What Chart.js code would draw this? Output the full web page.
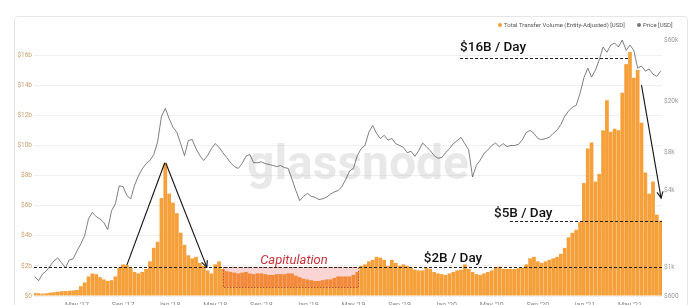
<!DOCTYPE html>
<html>
<head>
<meta charset="utf-8">
<script src="https://cdn.jsdelivr.net/npm/chart.js@4/dist/chart.umd.min.js"></script>
<style>
html, body { margin: 0; padding: 0; background: #fff; }
</style>
</head>
<body>
<canvas id="grafico" width="700" height="305"></canvas>
<script>
// x = meses desde jan/2017, uma amostra a cada 1/3 de mês
const passo = 1 / 3;

// Total Transfer Volume (Entity-Adjusted), em bilhões de USD
const volume = [
    0.2, 0.18, 0.15, 0.18, 0.22, 0.25, 0.28, 0.32, 0.33, 0.35, 0.37, 0.4,
    0.65, 0.9, 1.3, 1.5, 1.45, 1.25, 1.1, 1.0, 1.05, 1.3, 1.9, 2.1,
    2.05, 1.85, 1.6, 1.5, 1.6, 1.8, 2.3, 3.2, 3.6, 6.5, 8.8, 6.8,
    6.2, 5.5, 4.2, 3.4, 2.7, 2.5, 2.6, 2.2, 2.0, 1.7, 1.5, 2.1,
    2.3, 1.8, 1.65, 1.6, 1.55, 1.5, 1.55, 1.6, 1.5, 1.45, 1.5, 1.5,
    1.45, 1.4, 1.4, 1.45, 1.45, 1.45, 1.5, 1.5, 1.35, 1.25, 1.15, 1.1,
    1.05, 1.0, 1.0, 1.05, 1.1, 1.1, 1.2, 1.3, 1.3, 1.3, 1.3, 1.4,
    1.6, 2.0, 2.1, 2.3, 2.4, 2.6, 2.55, 2.4, 2.0, 2.4, 2.2, 2.0,
    2.1, 2.0, 1.9, 1.75, 1.7, 1.7, 1.9, 1.8, 1.6, 1.5, 1.45, 1.4,
    1.5, 1.6, 1.7, 1.75, 2.1, 1.8, 1.6, 1.45, 1.4, 1.5, 1.6, 1.7,
    1.9, 1.95, 1.8, 1.8, 1.8, 1.8, 1.85, 1.9, 2.1, 2.5, 2.6, 2.3,
    2.2, 2.3, 2.4, 2.5, 2.6, 2.8, 3.2, 3.9, 4.2, 4.4, 4.9, 7.5,
    9.8, 10.2, 7.6, 8.1, 11.0, 13.0, 10.9, 11.1, 11.0, 13.5, 15.4, 16.2,
    14.5, 15.0, 11.5, 8.2, 6.8, 7.6, 5.4, 5.0
];

// Price [USD]
const preco = [
    850, 790, 890, 940, 1030, 1130, 1190, 1090, 995, 1150, 1170, 1350,
    1530, 1780, 2400, 2700, 2500, 2400, 2250, 1980, 2780, 3150, 4350, 4300,
    3650, 3450, 4400, 5200, 5900, 6500, 6870, 7650, 9600, 15200, 17500, 14600,
    12500, 11400, 9300, 7500, 9850, 10000, 8500, 7500, 6870, 7500, 8500, 9300,
    8700, 7900, 7250, 6600, 6150, 5950, 6500, 7400, 7650, 6600, 6600, 6700,
    6500, 6400, 6280, 6150, 6280, 6050, 5950, 4900, 4000, 3340, 3600, 3800,
    3600, 3550, 3400, 3450, 3550, 3750, 3900, 4000, 4300, 4900, 5700, 5950,
    7500, 8500, 9000, 11400, 12900, 11200, 10200, 10800, 9900, 10200, 9300, 9000,
    8700, 7900, 8100, 7400, 8200, 9400, 8800, 8200, 7500, 7150, 7250, 7900,
    8500, 9300, 9800, 10400, 9300, 8300, 5100, 6300, 6900, 7800, 8300, 9000,
    9400, 8800, 9300, 8800, 9000, 9000, 9200, 10000, 11400, 11800, 11200, 10200,
    10000, 10200, 10400, 11200, 11800, 13100, 15200, 16700, 17900, 18500, 23000, 30300,
    36200, 30800, 34900, 42000, 52900, 48200, 54800, 56800, 52900, 60000, 49800, 54800,
    49800, 36200, 37600, 34300, 35600, 32400, 31200, 34300
];

const ticksMes = [4, 8, 12, 16, 20, 24, 28, 32, 36, 40, 44, 48, 52];
const nomesMes = ["May '17", "Sep '17", "Jan '18", "May '18", "Sep '18", "Jan '19", "May '19",
    "Sep '19", "Jan '20", "May '20", "Sep '20", "Jan '21", "May '21"];
const ticksVolume = [0, 2, 4, 6, 8, 10, 12, 14, 16];
const ticksPreco = [600, 1000, 4000, 8000, 20000, 60000];

const dadosVolume = volume.map((v, i) => ({ x: (i + 1) * passo, y: v }));
const dadosPreco = preco.map((v, i) => ({ x: (i + 1) * passo, y: v }));

function seta(c, x1, y1, x2, y2, ponta) {
    c.beginPath();
    c.moveTo(x1, y1);
    c.lineTo(x2, y2);
    c.stroke();
    if (!ponta) return;
    const ang = Math.atan2(y2 - y1, x2 - x1);
    const t = 7;
    c.beginPath();
    c.moveTo(x2 - t * Math.cos(ang - 0.45), y2 - t * Math.sin(ang - 0.45));
    c.lineTo(x2, y2);
    c.lineTo(x2 - t * Math.cos(ang + 0.45), y2 - t * Math.sin(ang + 0.45));
    c.stroke();
}

const anotacoes = {
    id: 'anotacoes',
    beforeDraw(chart) {
        const c = chart.ctx;
        c.save();
        c.fillStyle = '#fff';
        c.fillRect(0, 0, chart.width, chart.height);
        c.strokeStyle = '#e6e6e6';
        c.lineWidth = 1;
        c.beginPath();
        c.roundRect(14.5, 16.5, 673, 300, 3);
        c.stroke();
        c.restore();
    },
    beforeDatasetsDraw(chart) {
        // marca d'água
        const c = chart.ctx;
        c.save();
        c.font = 'bold 42px Roboto';
        const w = c.measureText('glassnode').width;
        c.font = 'bold ' + (42 * 222 / w).toFixed(1) + 'px Roboto';
        c.fillStyle = 'rgba(200,200,200,0.42)';
        c.textAlign = 'center';
        c.fillText('glassnode', 358, 179);
        c.restore();
    },
    afterDatasetsDraw(chart) {
        const c = chart.ctx;
        const x = chart.scales.x, y = chart.scales.y;
        const area = chart.chartArea;
        const X = m => x.getPixelForValue(m);
        const Y = v => y.getPixelForValue(v);
        c.save();

        // caixa da capitulação
        const bx1 = X(16.68), bx2 = X(28.4), by1 = Y(1.93), by2 = Y(0.6);
        c.fillStyle = 'rgba(235,60,60,0.22)';
        c.fillRect(bx1, by1, bx2 - bx1, by2 - by1);
        c.strokeStyle = '#b8563c';
        c.lineWidth = 1;
        c.setLineDash([1.5, 1.5]);
        c.strokeRect(Math.round(bx1) + 0.5, Math.round(by1) + 0.5, Math.round(bx2 - bx1), Math.round(by2 - by1));

        // linhas tracejadas
        c.strokeStyle = '#222';
        c.setLineDash([3, 2]);
        const tracejada = (m1, m2, v) => {
            const yy = Math.round(Y(v)) + 0.5;
            c.beginPath();
            c.moveTo(Math.max(X(m1), area.left), yy);
            c.lineTo(Math.min(X(m2), area.right), yy);
            c.stroke();
        };
        tracejada(37.25, 51.83, 15.8);
        tracejada(41.59, 54.78, 4.98);
        tracejada(0, 55, 1.93);

        // setas
        c.setLineDash([]);
        c.strokeStyle = '#111';
        c.lineWidth = 1.1;
        seta(c, X(8.33), Y(2.05), X(11.62), Y(8.85), false);
        seta(c, X(11.7), Y(8.85), X(15.27), Y(1.92), true);
        seta(c, X(53.0), Y(14.0), X(54.7), Y(6.5), true);

        // textos
        c.textBaseline = 'middle';
        c.textAlign = 'left';
        c.fillStyle = '#111';
        c.font = '500 13.5px Roboto';
        c.fillText('$16B / Day', X(37.25), Y(16.5));
        c.fillText('$5B / Day', X(40.2), Y(5.45));
        c.fillText('$2B / Day', X(34.1), Y(2.45));
        c.fillStyle = '#c8323a';
        c.font = 'italic 13px Roboto';
        c.fillText('Capitulation', X(19.9), Y(2.33));
        c.restore();
    },
    afterDraw(chart) {
        // legenda
        const c = chart.ctx;
        c.save();
        c.font = '6px Roboto';
        c.textBaseline = 'middle';
        c.fillStyle = '#f5a03a';
        c.beginPath();
        c.arc(500, 25, 2, 0, Math.PI * 2);
        c.fill();
        c.fillStyle = '#777';
        c.beginPath();
        c.arc(639, 25, 2, 0, Math.PI * 2);
        c.fill();
        c.fillStyle = '#555';
        c.fillText('Total Transfer Volume (Entity-Adjusted) [USD]', 504, 25);
        c.fillText('Price [USD]', 643, 25);
        c.restore();
    }
};

const ctx = document.getElementById('grafico');
const grafico = new Chart(ctx, {
    type: 'bar',
    data: {
        datasets: [
            {
                type: 'line',
                label: 'Price [USD]',
                data: dadosPreco,
                yAxisID: 'y1',
                borderColor: '#555',
                borderWidth: 0.75,
                pointRadius: 0,
                tension: 0,
                order: 0
            },
            {
                type: 'bar',
                label: 'Total Transfer Volume (Entity-Adjusted) [USD]',
                data: dadosVolume,
                yAxisID: 'y',
                backgroundColor: '#f5a03a',
                borderWidth: 0,
                barPercentage: 0.97,
                categoryPercentage: 1,
                order: 1
            }
        ]
    },
    options: {
        responsive: false,
        animation: false,
        layout: { padding: { left: 14, right: 12, top: 40, bottom: 0 } },
        plugins: { legend: { display: false }, tooltip: { enabled: false } },
        scales: {
            x: {
                type: 'linear',
                min: 0.27,
                max: 54.78,
                offset: false,
                grid: { display: false, drawTicks: false },
                border: { display: false },
                afterBuildTicks(s) { s.ticks = ticksMes.map(v => ({ value: v })); },
                afterFit(s) { s.height = 9; },
                ticks: {
                    callback: (v, i) => nomesMes[i],
                    font: { size: 7, family: 'Roboto' },
                    color: '#888',
                    padding: 5,
                    maxRotation: 0,
                    autoSkip: false
                }
            },
            y: {
                position: 'left',
                min: 0,
                max: 17,
                grid: { color: '#efefef', drawTicks: false },
                border: { display: false },
                afterBuildTicks(s) { s.ticks = ticksVolume.map(v => ({ value: v })); },
                afterFit(s) { s.width = 20; },
                ticks: {
                    callback: v => v === 0 ? '$0' : '$' + v + 'b',
                    font: { size: 6.5, family: 'Roboto' },
                    color: '#c9a070',
                    padding: 2
                }
            },
            y1: {
                type: 'logarithmic',
                position: 'right',
                min: 600,
                max: 60000,
                grid: { display: false, drawTicks: false },
                border: { display: false },
                afterBuildTicks(s) { s.ticks = ticksPreco.map(v => ({ value: v })); },
                afterFit(s) { s.width = 26; },
                ticks: {
                    callback: v => v >= 1000 ? '$' + (v / 1000) + 'k' : '$' + v,
                    font: { size: 6.5, family: 'Roboto' },
                    color: '#999',
                    padding: 2
                }
            }
        }
    },
    plugins: [anotacoes]
});
</script>
</body>
</html>
